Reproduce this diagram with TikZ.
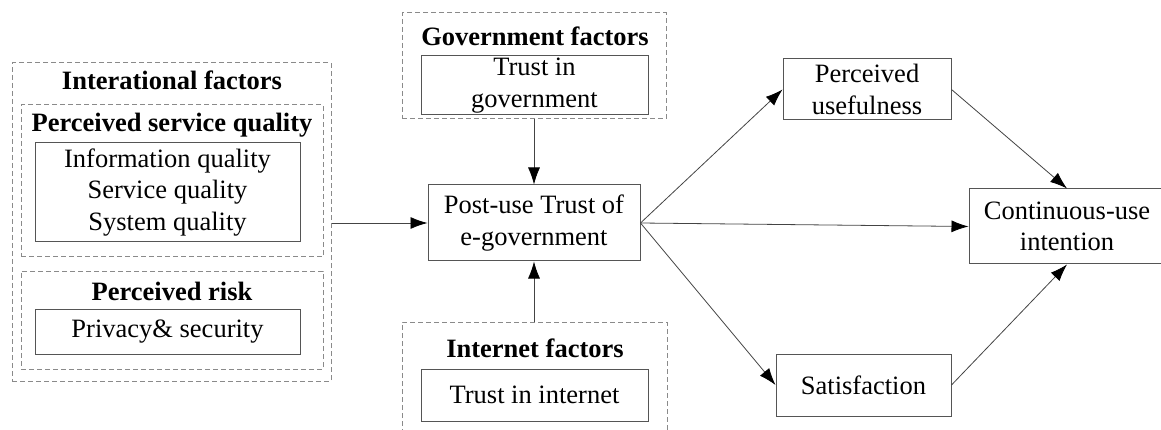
\documentclass[tikz,border=0pt]{standalone}
\usepackage{fontspec}
\setmainfont{Liberation Serif}[BoldFont={Liberation Serif Bold}]
\newfontfamily\tnr{Liberation Serif}
\usetikzlibrary{arrows.meta}
\definecolor{boxline}{HTML}{555555}
\definecolor{dashline}{HTML}{8A8A8A}
\definecolor{arrline}{HTML}{444444}
\begin{document}
\begin{tikzpicture}[x=1pt,y=-1pt,
  every node/.style={font=\tnr\fontsize{26.5}{31.5}\selectfont},
  sbox/.style={draw=boxline,line width=1pt,inner sep=0pt,align=center},
  dbox/.style={draw=dashline,line width=1pt,dash pattern=on 5pt off 3pt,inner sep=0pt},
  ttl/.style={font=\tnr\fontsize{26.5}{31.5}\selectfont\bfseries,inner sep=0pt},
  arr/.style={draw=arrline,line width=0.8pt,-{Latex[length=17pt,width=12pt,color=black]}}]
\useasboundingbox (0,0) rectangle (1161,430);
% left group
\node[dbox,minimum width=319pt,minimum height=318pt] (outer) at (171.5,222) {};
\node[ttl] (t1) at (172,80) {Interational factors};
\node[dbox,minimum width=302pt,minimum height=152pt] (psq) at (172,181) {};
\node[ttl] (t2) at (172,125) {Perceived service quality};
\node[sbox,minimum width=265pt,minimum height=99pt] (iq) at (167.5,192.5) {Information quality\\Service quality\\System quality};
\node[dbox,minimum width=302pt,minimum height=98pt] (pr) at (172,320) {};
\node[ttl] (t3) at (172,291) {Perceived risk};
\node[sbox,minimum width=265pt,minimum height=45pt] (ps) at (167.5,331.5) {Privacy\& security};
% government
\node[dbox,minimum width=264pt,minimum height=106pt] (gov) at (534,66) {};
\node[ttl] (t4) at (535,36) {Government factors};
\node[sbox,minimum width=227pt,minimum height=59pt] (tig) at (534.5,85.5) {Trust in\\government};
% post-use
\node[sbox,minimum width=212pt,minimum height=76pt] (post) at (534,223) {Post-use Trust of\\e-government};
% internet (open at bottom)
\draw[draw=dashline,line width=1pt,dash pattern=on 5pt off 3pt] (402,434) -- (402,322) -- (667,322) -- (667,434);
\coordinate (inet) at (534,322);
\node[ttl] (t5) at (535,348) {Internet factors};
\node[sbox,minimum width=227pt,minimum height=52pt] (tii) at (534.5,395) {Trust in internet};
% right side
\node[sbox,minimum width=168pt,minimum height=61pt] (pu) at (867,89.5) {Perceived\\usefulness};
\node[sbox,minimum width=175pt,minimum height=62pt] (sat) at (863.5,385) {Satisfaction};
\node[sbox,minimum width=196pt,minimum height=75pt] (cu) at (1067,226.5) {Continuous-use\\intention};
% connectors
\draw[arr] (outer.east |- post.west) -- (post.west);
\draw[arr] (gov.south) -- (post.north);
\draw[arr] (inet) -- (post.south);
\draw[arr] (post.east) -- (pu.west);
\draw[arr] (post.east) -- (cu.west);
\draw[arr] (post.east) -- (sat.west);
\draw[arr] (pu.east) -- (cu.north);
\draw[arr] (sat.east) -- (cu.south);
\end{tikzpicture}
\end{document}
